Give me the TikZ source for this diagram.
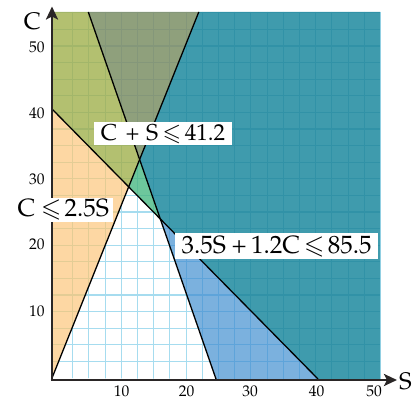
\documentclass[tikz,border=0pt]{standalone}
\usepackage[T1]{fontenc}
\usepackage{mathpazo}
\usepackage{amssymb}
\usetikzlibrary{arrows.meta}
\definecolor{gwhite}{HTML}{A6DCEF}
\definecolor{forange}{HTML}{FDD7A3}
\definecolor{gorange}{HTML}{E3CC95}
\definecolor{folive}{HTML}{B3C070}
\definecolor{golive}{HTML}{A2B66A}
\definecolor{fgray}{HTML}{8FA07C}
\definecolor{ggray}{HTML}{84977A}
\definecolor{fgreen}{HTML}{6DC79C}
\definecolor{ggreen}{HTML}{5CBD97}
\definecolor{fteal}{HTML}{3F9BAD}
\definecolor{gteal}{HTML}{3192A7}
\definecolor{fblue}{HTML}{7BB1DE}
\definecolor{gblue}{HTML}{5EA4DA}
\definecolor{axiscol}{HTML}{2A2626}
\newcommand\mygrid[1]{%
  \foreach \k in {1,...,20}{\draw[#1,line width=1.1pt] ({56.5+16.2*\k},12) -- ({56.5+16.2*\k},380);}
  \foreach \k in {1,...,22}{\draw[#1,line width=1.1pt] (52,{378-16.6*\k}) -- (381,{378-16.6*\k});}}
\newcommand\myregion[3]{%
  \begin{scope}\clip #3 -- cycle; \fill[#1] (40,0) rectangle (390,390); \mygrid{#2}\end{scope}}
\newcommand\myhs[1]{\hspace{#1pt}}
\tikzset{
  bound/.style={black,line width=1.3pt},
  axisline/.style={axiscol,line width=2.6pt,-{Stealth[length=13pt,width=12pt,inset=3pt]}},
  tick/.style={font=\fontsize{15.5}{16}\selectfont,inner sep=0pt},
  axlabel/.style={font=\fontsize{24}{24}\selectfont,inner sep=0pt},
  cons/.style={fill=white,inner sep=0pt}
}
\begin{document}
\begin{tikzpicture}[x=1pt,y=-1pt]
\useasboundingbox (0,0) rectangle (416,401);
\fill[white] (0,0) rectangle (416,401);
% key points
\coordinate (A1) at (52,109);
\coordinate (B1) at (318,379);
\coordinate (O) at (52,378);
\coordinate (T2) at (198.8,12);
\coordinate (T3) at (88.3,12);
\coordinate (B3) at (216,379);
\coordinate (P12) at (128.7,186.8);
\coordinate (P23) at (139.6,159.5);
\coordinate (P13) at (160.3,218.9);
\coordinate (TL) at (52,12);
\coordinate (TR) at (380,12);
\coordinate (BR) at (380,379);
% regions
\myregion{forange}{gorange}{(A1) -- (P12) -- (O)}
\myregion{folive}{golive}{(TL) -- (T3) -- (P23) -- (P12) -- (A1)}
\myregion{fgray}{ggray}{(T3) -- (T2) -- (P23)}
\myregion{fgreen}{ggreen}{(P23) -- (P12) -- (P13)}
\myregion{fteal}{gteal}{(T2) -- (TR) -- (BR) -- (B1) -- (P13) -- (P23)}
\myregion{fblue}{gblue}{(P13) -- (B1) -- (B3)}
\myregion{white}{gwhite}{(P12) -- (P13) -- (B3) -- (O)}
\draw[gwhite!80!fteal,line width=1pt] (380.5,12) -- (380.5,379);
% constraint lines
\draw[bound] (A1) -- (B1);
\draw[bound] (O) -- (T2);
\draw[bound] (T3) -- (B3);
% axes
\coordinate (XS) at (50.5,380);
\coordinate (XE) at (397,380);
\coordinate (YS) at (52,381);
\coordinate (YE) at (52,6.5);
\draw[axisline] (XS) -- (XE);
\draw[axisline] (YS) -- (YE);
\node[axlabel] (lc) at (32.5,21.5) {C};
\node[axlabel] (ls) at (405.5,381) {S};
% ticks
\node[tick] (c50) at (37,47.7) {50};
\node[tick] (c40) at (37,113) {40};
\node[tick] (c30) at (37,179.3) {30};
\node[tick] (c20) at (37,244.3) {20};
\node[tick] (c10) at (37,311) {10};
\node[tick] (s10) at (121.7,391.7) {10};
\node[tick] (s20) at (186.7,391.7) {20};
\node[tick] (s30) at (250,391.7) {30};
\node[tick] (s40) at (316.7,391.7) {40};
\node[tick] (s50) at (374,391.7) {50};
% constraint labels
\node[cons,minimum width=137.7pt,minimum height=22.7pt,font=\fontsize{23}{23}\selectfont] (k1) at (162.9,133.7) {C\myhs{8.5}+\myhs{6.5}S\myhs{4.5}$\leqslant$\myhs{3.5}41.2};
\node[cons,minimum width=100pt,minimum height=23.4pt,font=\fontsize{25}{25}\selectfont] (k2) at (63.2,210) {C\myhs{6}$\leqslant$\myhs{3}2.5S};
\node[cons,minimum width=203pt,minimum height=26pt,font=\fontsize{25}{26}\selectfont] (k3) at (276.7,246.5) {3.5S\myhs{5.5}+\myhs{4.5}1.2C\myhs{4}$\leqslant$\myhs{3.5}85.5};
\end{tikzpicture}
\end{document}
